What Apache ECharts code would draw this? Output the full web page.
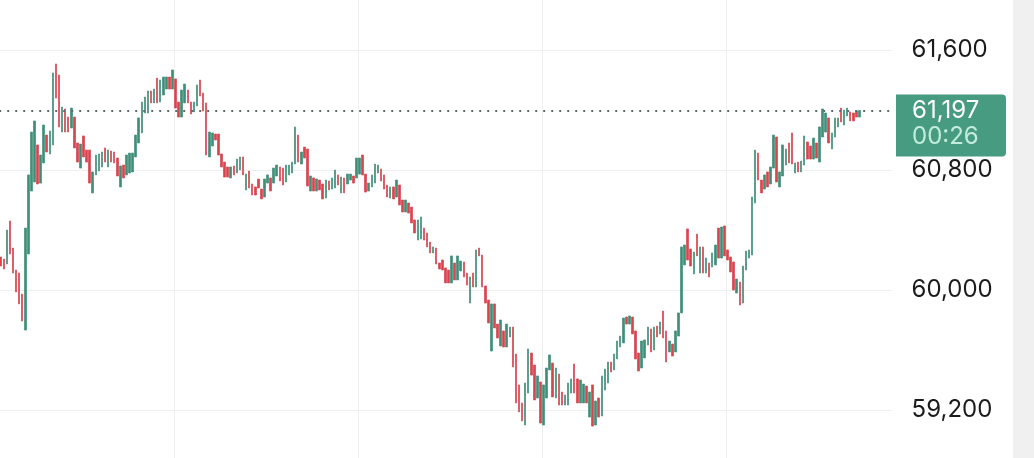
<!DOCTYPE html>
<html>
<head>
<meta charset="utf-8">
<script src="https://cdn.jsdelivr.net/npm/echarts@6/dist/echarts.min.js"></script>
<style>
  html, body { margin: 0; padding: 0; background: #fff; }
  #chart { width: 1034px; height: 458px; }
</style>
</head>
<body>
<div id="chart"></div>
<script>
// 1-minute candles
const opens = [
  60220, 60207, 60173, 60460, 60280, 60133, 60113, 59973, 59733, 60240,
  60660, 60720, 60967, 60713, 60847, 61033, 60907, 60967, 61507, 61433,
  61053, 61207, 61153, 61080, 61153, 60980, 60813, 61027, 60933, 60933,
  60647, 60767, 60793, 60820, 60947, 60820, 60927, 60920, 60880, 60687,
  60833, 60767, 60780, 60787, 60887, 60980, 61047, 61180, 61180, 61327,
  61247, 61413, 61253, 61300, 61340, 61420, 61340, 61407, 61253, 61153,
  61247, 61333, 61253, 61187, 61227, 61400, 61313, 61247, 60887, 60960,
  61040, 61040, 60907, 60853, 60820, 60747, 60827, 60780, 60800, 60887,
  60667, 60793, 60707, 60687, 60740, 60673, 60620, 60713, 60747, 60713,
  60760, 60820, 60813, 60720, 60767, 60780, 60840, 61033, 60840, 60953,
  60940, 60660, 60747, 60660, 60733, 60707, 60613, 60727, 60673, 60680,
  60767, 60647, 60747, 60707, 60733, 60760, 60747, 60773, 60900, 60773,
  60660, 60687, 60713, 60780, 60807, 60767, 60700, 60613, 60687, 60620,
  60700, 60600, 60520, 60580, 60553, 60467, 60333, 60340, 60413, 60380,
  60320, 60247, 60280, 60180, 60200, 60147, 60133, 60047, 60180, 60067,
  60127, 60187, 60113, 59913, 60113, 60020, 60280, 60233, 60027, 59933,
  59593, 59907, 59773, 59627, 59727, 59620, 59687, 59753, 59573, 59367,
  59247, 59100, 59313, 59580, 59500, 59280, 59387, 59100, 59280, 59467,
  59513, 59280, 59440, 59320, 59233, 59233, 59313, 59507, 59407, 59247,
  59247, 59360, 59153, 59367, 59100, 59280, 59160, 59333, 59380, 59520,
  59467, 59540, 59620, 59647, 59820, 59773, 59820, 59727, 59580, 59480,
  59547, 59633, 59740, 59600, 59760, 59707, 59860, 59727, 59587, 59640,
  59587, 59693, 59847, 60167, 60407, 60273, 60107, 60373, 60113, 60287,
  60113, 60180, 60153, 60167, 60413, 60213, 60427, 60267, 60220, 60187,
  59980, 60053, 59913, 60133, 60213, 60233, 60580, 60913, 60733, 60673,
  60787, 60707, 60813, 61020, 60687, 60760, 60833, 60980, 61047, 60780,
  60853, 60787, 60833, 60987, 60960, 60873, 60980, 60853, 61020, 61053,
  61147, 60940, 61020, 61087, 61213, 61100, 61160, 61187, 61180, 61193,
  61153
];
const closes = [
  60160, 60140, 60400, 60240, 60113, 59987, 59907, 59793, 60413, 60767,
  61053, 61127, 60707, 60900, 61100, 60920, 61060, 61447, 61280, 61087,
  61220, 61053, 61053, 61213, 60947, 60853, 60973, 60887, 60853, 60713,
  60787, 60900, 60907, 60920, 60853, 60933, 60853, 60847, 60760, 60827,
  60747, 60900, 60913, 60913, 61033, 61147, 61253, 61287, 61327, 61247,
  61340, 61247, 61400, 61420, 61420, 61340, 61467, 61213, 61153, 61333,
  61373, 61247, 61173, 61253, 61367, 61293, 61193, 60900, 61053, 61047,
  61000, 60900, 60820, 60753, 60753, 60820, 60767, 60873, 60887, 60767,
  60773, 60680, 60633, 60633, 60680, 60607, 60740, 60767, 60660, 60813,
  60833, 60727, 60700, 60833, 60833, 60853, 61087, 60853, 60920, 60880,
  60693, 60760, 60660, 60740, 60667, 60607, 60733, 60667, 60747, 60800,
  60700, 60753, 60647, 60773, 60773, 60713, 60880, 60880, 60767, 60653,
  60713, 60767, 60840, 60833, 60727, 60673, 60620, 60687, 60607, 60733,
  60567, 60520, 60600, 60513, 60447, 60380, 60467, 60487, 60333, 60287,
  60247, 60287, 60173, 60140, 60133, 60047, 60047, 60227, 60067, 60227,
  60193, 60087, 60033, 60087, 60020, 60267, 60227, 60020, 59913, 59780,
  59907, 59747, 59680, 59800, 59620, 59773, 59753, 59487, 59247, 59187,
  59127, 59380, 59607, 59433, 59267, 59427, 59113, 59367, 59480, 59567,
  59287, 59480, 59233, 59233, 59300, 59380, 59407, 59313, 59247, 59400,
  59373, 59247, 59320, 59093, 59260, 59153, 59427, 59473, 59520, 59453,
  59573, 59660, 59693, 59813, 59773, 59827, 59707, 59540, 59460, 59660,
  59667, 59753, 59587, 59753, 59687, 59787, 59680, 59520, 59660, 59560,
  59727, 59847, 60287, 60300, 60200, 60160, 60253, 60227, 60287, 60113,
  60213, 60087, 60247, 60300, 60213, 60420, 60227, 60200, 60120, 60000,
  60073, 59900, 60160, 60260, 60267, 60620, 60933, 60733, 60647, 60767,
  60687, 60820, 61033, 60720, 60787, 60967, 60940, 60847, 60840, 60847,
  60787, 60860, 61027, 60873, 60873, 61013, 60880, 61087, 61207, 61180,
  60980, 61047, 61147, 61147, 61120, 61200, 61213, 61127, 61127, 61153,
  61197
];
const yTicks = [58400, 59200, 60000, 60800, 61600, 62400];
const lastPrice = 61197;
const countdown = '00:26';
const emptySlots = 10;   // space right of the last candle
const startMinute = 9 * 60 + 3;

// minute labels for the category axis
const times = [];
for (let k = 0; k < opens.length + emptySlots; k++) {
    let m = startMinute + k;
    times.push(String(Math.floor(m / 60)).padStart(2, '0') + ':' + String(m % 60).padStart(2, '0'));
}

const upColor = '#3f8f78';
const downColor = '#d8454f';
const gridColor = '#eeeeee';

let chart = echarts.init(document.getElementById('chart'));
let candles = opens.map((o, i) => [o, closes[i], Math.min(o, closes[i]), Math.max(o, closes[i])]);

chart.setOption({
    animation: false,
    grid: { left: -0.8, right: 142.4, top: -70, bottom: -72, outerBoundsMode: 'none', containLabel: false },
    xAxis: {
        type: 'category',
        data: times,
        boundaryGap: true,
        axisLine: { show: false },
        axisTick: { show: false },
        axisLabel: { show: false },
        splitLine: {
            show: true,
            interval: function (idx) { return idx % 60 === 57; },
            // hourly lines only, the closing edge line is left out
            lineStyle: { color: [gridColor, gridColor, gridColor, gridColor, 'rgba(0,0,0,0)'], width: 1 }
        }
    },
    yAxis: {
        type: 'value',
        position: 'right',
        min: yTicks[0],
        max: yTicks[yTicks.length - 1],
        interval: yTicks[1] - yTicks[0],
        axisLine: { show: false },
        axisTick: { show: false },
        axisLabel: {
            margin: 20,
            color: '#1b1b1b',
            fontSize: 24,
            fontFamily: 'Inter',
            formatter: v => v.toLocaleString('en-US')
        },
        splitLine: { lineStyle: { color: '#efefef', width: 1 } }
    },
    series: [{
        type: 'candlestick',
        data: candles,
        barWidth: 2,
        itemStyle: {
            color: upColor,
            color0: downColor,
            borderColor: upColor,
            borderColor0: downColor,
            borderWidth: 0.7
        },
        markLine: {
            symbol: 'none',
            silent: true,
            label: { show: false },
            lineStyle: { color: '#5f6b6b', type: [2, 6], width: 2 },
            data: [{ yAxis: lastPrice }]
        }
    }]
});

// price badge on the axis, placed through the y scale
let py = chart.convertToPixel({ yAxisIndex: 0 }, lastPrice);
chart.setOption({
    graphic: [
        { type: 'rect', silent: true, shape: { x: 1013, y: 0, width: 21, height: 458 }, style: { fill: '#f0f0f0' } },
        { type: 'rect', silent: true, shape: { x: 896, y: py - 16, width: 110, height: 62, r: [0, 4, 4, 0] }, style: { fill: '#469b80' } },
        { type: 'text', silent: true, x: 912, y: py, style: { text: lastPrice.toLocaleString('en-US'), fill: '#ffffff', font: '24px Inter', verticalAlign: 'middle' } },
        { type: 'text', silent: true, x: 912, y: py + 26, style: { text: countdown, fill: '#c4ecdc', font: '24px Inter', verticalAlign: 'middle' } }
    ]
});
</script>
</body>
</html>
